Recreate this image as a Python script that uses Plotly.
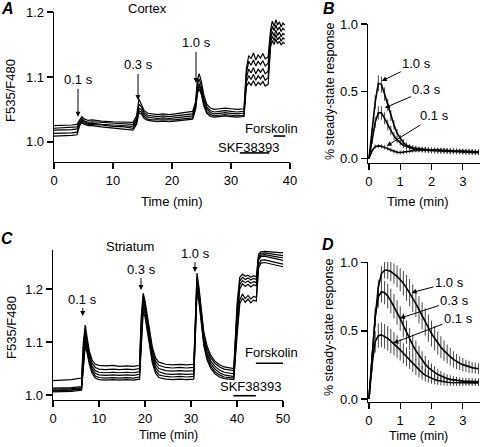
import plotly.graph_objects as go

# ---------------- Panel A: Cortex (time in min, F535/F480) ----------------
tA = [0, 1.5, 3, 3.9,
      4.3, 4.7, 5.2, 5.8, 6.5, 8, 10, 12, 13.4,
      14.0, 14.4, 14.8, 15.3, 15.9, 16.6, 17.5, 18.5, 19.5, 20.5, 21.5, 22.5, 23.5,
      24.0, 24.3, 24.6, 25.0, 25.4, 25.9, 26.5, 27.2, 28, 29, 30, 31, 32.2,
      32.6, 33.0, 33.4, 33.8, 34.2, 34.6, 35.0, 35.4, 35.8, 36.3,
      36.7, 37.0, 37.3, 37.6, 37.9, 38.2, 38.5, 38.8, 39.1]

a1 = [1.025, 1.025, 1.026, 1.027,
      1.034, 1.039, 1.035, 1.033, 1.034, 1.032, 1.031, 1.030, 1.030,
      1.040, 1.066, 1.058, 1.048, 1.044, 1.043, 1.042, 1.043, 1.042, 1.043, 1.044, 1.045, 1.047,
      1.062, 1.095, 1.105, 1.092, 1.072, 1.058, 1.052, 1.050, 1.051, 1.052, 1.051, 1.050, 1.051,
      1.112, 1.133, 1.128, 1.137, 1.126, 1.134, 1.129, 1.136, 1.128, 1.131,
      1.172, 1.186, 1.178, 1.188, 1.180, 1.185, 1.177, 1.183, 1.180]
a2 = [1.021, 1.022, 1.022, 1.023,
      1.031, 1.036, 1.032, 1.030, 1.031, 1.030, 1.029, 1.028, 1.027,
      1.036, 1.058, 1.054, 1.045, 1.041, 1.040, 1.039, 1.040, 1.039, 1.040, 1.041, 1.042, 1.043,
      1.058, 1.088, 1.097, 1.085, 1.066, 1.054, 1.048, 1.046, 1.047, 1.048, 1.047, 1.046, 1.047,
      1.105, 1.124, 1.118, 1.126, 1.117, 1.124, 1.119, 1.125, 1.117, 1.121,
      1.165, 1.178, 1.171, 1.180, 1.172, 1.177, 1.170, 1.175, 1.172]
a3 = [1.018, 1.018, 1.019, 1.020,
      1.028, 1.034, 1.031, 1.028, 1.029, 1.027, 1.026, 1.025, 1.024,
      1.033, 1.052, 1.050, 1.042, 1.038, 1.037, 1.036, 1.037, 1.036, 1.037, 1.038, 1.039, 1.040,
      1.055, 1.082, 1.090, 1.080, 1.062, 1.051, 1.045, 1.043, 1.044, 1.045, 1.044, 1.043, 1.044,
      1.098, 1.112, 1.106, 1.114, 1.105, 1.112, 1.107, 1.113, 1.105, 1.109,
      1.158, 1.170, 1.163, 1.172, 1.164, 1.169, 1.162, 1.167, 1.165]
a4 = [1.013, 1.013, 1.014, 1.015,
      1.026, 1.032, 1.029, 1.027, 1.027, 1.026, 1.024, 1.023, 1.021,
      1.030, 1.048, 1.046, 1.039, 1.035, 1.034, 1.034, 1.034, 1.033, 1.034, 1.035, 1.036, 1.037,
      1.052, 1.078, 1.086, 1.076, 1.058, 1.047, 1.042, 1.040, 1.041, 1.042, 1.041, 1.040, 1.041,
      1.092, 1.102, 1.096, 1.104, 1.095, 1.102, 1.097, 1.103, 1.095, 1.099,
      1.152, 1.163, 1.156, 1.165, 1.157, 1.162, 1.155, 1.160, 1.158]
a5 = [1.009, 1.009, 1.010, 1.011,
      1.024, 1.030, 1.027, 1.025, 1.025, 1.023, 1.021, 1.020, 1.018,
      1.027, 1.045, 1.043, 1.036, 1.033, 1.032, 1.031, 1.032, 1.031, 1.032, 1.033, 1.034, 1.035,
      1.050, 1.074, 1.082, 1.072, 1.055, 1.044, 1.039, 1.038, 1.039, 1.040, 1.039, 1.038, 1.039,
      1.085, 1.092, 1.087, 1.094, 1.086, 1.092, 1.088, 1.093, 1.086, 1.089,
      1.146, 1.156, 1.150, 1.158, 1.151, 1.155, 1.149, 1.153, 1.151]
tracesA = [a1, a2, a3, a4, a5]

# stimulus labels in A: (label, time, value at arrow tip)
stimA_labels = ["0.1 s", "0.3 s", "1.0 s"]
stimA_times = [4.07, 14.24, 24.07]
stimA_tips = [1.0385, 1.0646, 1.0908]

# drug bars in A (start, end, level)
skfA = [31.5, 36.5, 0.983]
forA = [37.2, 39.2, 1.009]

# ---------------- Panel C: Striatum ----------------
tC = [0, 2, 4, 6.2,
      6.6, 7.0, 7.4, 7.9, 8.5, 9.2, 10, 11.5, 13, 14.5, 16, 17.5, 18.8,
      19.2, 19.6, 20.0, 20.5, 21.0, 21.6, 22.3, 23, 24.5, 26, 27.5, 29, 30.6,
      31.0, 31.3, 31.7, 32.2, 32.8, 33.5, 34.3, 35.2, 36.2, 37.2, 38.2, 39.3,
      40.0, 40.6, 41.2, 41.8, 42.4, 43.0, 43.6, 44.2,
      44.7, 45.2, 46, 47, 48, 49, 50]

c1 = [1.027, 1.028, 1.029, 1.032,
      1.100, 1.132, 1.110, 1.082, 1.066, 1.058, 1.056, 1.055, 1.056, 1.054, 1.055, 1.054, 1.056,
      1.150, 1.192, 1.178, 1.150, 1.118, 1.090, 1.070, 1.062, 1.058, 1.057, 1.058, 1.057, 1.058,
      1.180, 1.230, 1.205, 1.160, 1.118, 1.092, 1.075, 1.064, 1.057, 1.053, 1.051, 1.050,
      1.170, 1.222, 1.228, 1.224, 1.226, 1.222, 1.225, 1.223,
      1.266, 1.270, 1.271, 1.270, 1.270, 1.269, 1.268]
c2 = [1.013, 1.013, 1.014, 1.016,
      1.090, 1.124, 1.104, 1.078, 1.060, 1.052, 1.049, 1.048, 1.049, 1.048, 1.049, 1.048, 1.050,
      1.140, 1.186, 1.172, 1.144, 1.112, 1.084, 1.064, 1.056, 1.052, 1.051, 1.052, 1.051, 1.052,
      1.170, 1.222, 1.200, 1.155, 1.112, 1.087, 1.070, 1.060, 1.053, 1.049, 1.047, 1.046,
      1.160, 1.215, 1.222, 1.218, 1.221, 1.217, 1.220, 1.218,
      1.262, 1.267, 1.268, 1.267, 1.266, 1.264, 1.263]
c3 = [1.011, 1.011, 1.012, 1.014,
      1.080, 1.116, 1.098, 1.072, 1.054, 1.046, 1.043, 1.042, 1.043, 1.042, 1.043, 1.042, 1.044,
      1.130, 1.180, 1.166, 1.138, 1.106, 1.078, 1.058, 1.050, 1.046, 1.045, 1.046, 1.045, 1.046,
      1.160, 1.215, 1.195, 1.150, 1.105, 1.080, 1.064, 1.054, 1.047, 1.043, 1.041, 1.040,
      1.150, 1.208, 1.216, 1.212, 1.215, 1.211, 1.214, 1.212,
      1.258, 1.264, 1.265, 1.263, 1.262, 1.260, 1.259]
c4 = [1.009, 1.009, 1.010, 1.012,
      1.070, 1.108, 1.092, 1.066, 1.049, 1.041, 1.038, 1.037, 1.038, 1.037, 1.038, 1.037, 1.039,
      1.120, 1.172, 1.160, 1.132, 1.100, 1.072, 1.052, 1.044, 1.040, 1.039, 1.040, 1.039, 1.040,
      1.150, 1.207, 1.190, 1.145, 1.100, 1.075, 1.059, 1.049, 1.042, 1.038, 1.036, 1.035,
      1.140, 1.200, 1.210, 1.205, 1.209, 1.204, 1.208, 1.206,
      1.255, 1.261, 1.262, 1.260, 1.258, 1.256, 1.254]
c5 = [1.008, 1.008, 1.009, 1.011,
      1.060, 1.100, 1.086, 1.062, 1.045, 1.036, 1.033, 1.032, 1.033, 1.032, 1.033, 1.032, 1.034,
      1.110, 1.164, 1.154, 1.126, 1.094, 1.066, 1.046, 1.038, 1.035, 1.034, 1.035, 1.034, 1.035,
      1.140, 1.198, 1.184, 1.140, 1.096, 1.070, 1.054, 1.044, 1.038, 1.034, 1.033, 1.032,
      1.120, 1.180, 1.190, 1.182, 1.188, 1.181, 1.186, 1.184,
      1.245, 1.254, 1.255, 1.253, 1.251, 1.249, 1.247]
c6 = [1.006, 1.006, 1.007, 1.009,
      1.055, 1.092, 1.080, 1.058, 1.041, 1.032, 1.029, 1.028, 1.029, 1.028, 1.029, 1.028, 1.030,
      1.100, 1.156, 1.148, 1.120, 1.088, 1.060, 1.041, 1.033, 1.030, 1.029, 1.030, 1.029, 1.030,
      1.130, 1.190, 1.178, 1.135, 1.092, 1.066, 1.050, 1.040, 1.034, 1.031, 1.030, 1.029,
      1.110, 1.172, 1.183, 1.175, 1.181, 1.174, 1.179, 1.177,
      1.240, 1.249, 1.250, 1.248, 1.246, 1.244, 1.242]
tracesC = [c1, c2, c3, c4, c5, c6]

stimC_labels = ["0.1 s", "0.3 s", "1.0 s"]
stimC_times = [6.46, 19.13, 30.87]
stimC_tips = [1.149, 1.198, 1.232]

skfC = [39.2, 44.1, 0.9987]
forC = [44.1, 51.2, 1.06]

# ---------------- Panels B and D: normalised responses ----------------
tN = [0.0, 0.1, 0.2, 0.3, 0.4, 0.5, 0.6, 0.7, 0.8, 0.9,
      1.0, 1.1, 1.2, 1.3, 1.4, 1.5, 1.6, 1.7, 1.8, 1.9,
      2.0, 2.1, 2.2, 2.3, 2.4, 2.5, 2.6, 2.7, 2.8, 2.9,
      3.0, 3.1, 3.2, 3.3, 3.4, 3.5]

B10 = [0.0, 0.20, 0.42, 0.56, 0.55, 0.48, 0.40, 0.32, 0.25, 0.19,
       0.15, 0.12, 0.10, 0.09, 0.082, 0.077, 0.073, 0.070, 0.068, 0.066,
       0.065, 0.064, 0.063, 0.062, 0.061, 0.060, 0.059, 0.058, 0.057, 0.056,
       0.055, 0.054, 0.053, 0.052, 0.051, 0.050]
B03 = [0.0, 0.13, 0.27, 0.34, 0.34, 0.30, 0.25, 0.21, 0.17, 0.14,
       0.12, 0.10, 0.09, 0.08, 0.075, 0.070, 0.067, 0.065, 0.063, 0.061,
       0.060, 0.059, 0.058, 0.057, 0.056, 0.055, 0.054, 0.053, 0.052, 0.051,
       0.050, 0.049, 0.048, 0.047, 0.046, 0.045]
B01 = [0.0, 0.06, 0.09, 0.095, 0.092, 0.085, 0.075, 0.065, 0.055, 0.048,
       0.046, 0.048, 0.052, 0.056, 0.060, 0.063, 0.065, 0.066, 0.067, 0.067,
       0.066, 0.065, 0.064, 0.063, 0.062, 0.061, 0.060, 0.059, 0.058, 0.057,
       0.056, 0.055, 0.054, 0.053, 0.052, 0.051]
eB10 = [0.0, 0.03, 0.05, 0.06, 0.06, 0.05, 0.045, 0.04, 0.035, 0.03,
        0.028, 0.025, 0.022, 0.02, 0.02, 0.02, 0.02, 0.02, 0.02, 0.02,
        0.02, 0.02, 0.02, 0.02, 0.02, 0.02, 0.02, 0.02, 0.02, 0.02,
        0.02, 0.02, 0.02, 0.02, 0.02, 0.02]
eB03 = [0.0, 0.02, 0.04, 0.05, 0.05, 0.045, 0.04, 0.035, 0.03, 0.025,
        0.022, 0.02, 0.02, 0.02, 0.02, 0.02, 0.02, 0.02, 0.02, 0.02,
        0.02, 0.02, 0.02, 0.02, 0.02, 0.02, 0.02, 0.02, 0.02, 0.02,
        0.02, 0.02, 0.02, 0.02, 0.02, 0.02]
eB01 = [0.0, 0.01, 0.015, 0.015, 0.015, 0.015, 0.015, 0.015, 0.015, 0.015,
        0.015, 0.015, 0.015, 0.015, 0.015, 0.015, 0.015, 0.015, 0.015, 0.015,
        0.015, 0.015, 0.015, 0.015, 0.015, 0.015, 0.015, 0.015, 0.015, 0.015,
        0.015, 0.015, 0.015, 0.015, 0.015, 0.015]

D10 = [0.0, 0.30, 0.60, 0.82, 0.92, 0.945, 0.945, 0.935, 0.92, 0.90,
       0.875, 0.85, 0.815, 0.78, 0.74, 0.70, 0.655, 0.61, 0.565, 0.52,
       0.48, 0.445, 0.41, 0.38, 0.355, 0.33, 0.31, 0.29, 0.275, 0.262,
       0.252, 0.243, 0.236, 0.23, 0.226, 0.222]
D03 = [0.0, 0.30, 0.60, 0.75, 0.787, 0.78, 0.755, 0.72, 0.68, 0.635,
       0.59, 0.54, 0.49, 0.44, 0.395, 0.355, 0.32, 0.285, 0.255, 0.23,
       0.21, 0.195, 0.18, 0.168, 0.158, 0.15, 0.144, 0.14, 0.136, 0.133,
       0.131, 0.13, 0.129, 0.128, 0.127, 0.126]
D01 = [0.0, 0.25, 0.42, 0.465, 0.47, 0.46, 0.445, 0.425, 0.405, 0.385,
       0.36, 0.335, 0.31, 0.285, 0.26, 0.235, 0.212, 0.192, 0.175, 0.162,
       0.15, 0.142, 0.135, 0.13, 0.126, 0.123, 0.121, 0.12, 0.119, 0.118,
       0.118, 0.118, 0.118, 0.118, 0.118, 0.118]
eD10 = [0.0, 0.03, 0.05, 0.055, 0.055, 0.06, 0.065, 0.07, 0.075, 0.08,
        0.085, 0.09, 0.095, 0.1, 0.1, 0.1, 0.1, 0.1, 0.1, 0.1,
        0.095, 0.09, 0.085, 0.08, 0.075, 0.07, 0.065, 0.06, 0.055, 0.05,
        0.05, 0.045, 0.045, 0.04, 0.04, 0.04]
eD03 = [0.0, 0.05, 0.07, 0.08, 0.08, 0.085, 0.09, 0.09, 0.09, 0.09,
        0.09, 0.088, 0.085, 0.082, 0.078, 0.074, 0.07, 0.065, 0.06, 0.055,
        0.05, 0.046, 0.042, 0.038, 0.035, 0.032, 0.03, 0.028, 0.027, 0.026,
        0.025, 0.025, 0.025, 0.025, 0.025, 0.025]
eD01 = [0.0, 0.05, 0.08, 0.09, 0.09, 0.09, 0.09, 0.088, 0.085, 0.082,
        0.078, 0.074, 0.07, 0.066, 0.062, 0.058, 0.054, 0.05, 0.046, 0.042,
        0.038, 0.035, 0.032, 0.03, 0.028, 0.026, 0.025, 0.024, 0.023, 0.022,
        0.022, 0.022, 0.022, 0.022, 0.022, 0.022]

resp_labels = ["1.0 s", "0.3 s", "0.1 s"]
# arrow tips (time, value) and text offsets (pixels)
B_tips = [(0.41, 0.577), (0.51, 0.378), (0.57, 0.095)]
B_off = [(35, -17), (42, -18), (48, -30)]
D_tips = [(1.36, 0.78), (0.99, 0.592), (0.78, 0.41)]
D_off = [(38, -10), (55, -18), (65, -25)]

FONT = "Liberation Sans, Arial, Helvetica, sans-serif"
W, H = 480, 447

fig = go.Figure()

for tr in tracesA:
    fig.add_trace(go.Scatter(x=tA, y=tr, mode="lines", line=dict(color="black", width=1.2),
                             xaxis="x", yaxis="y", showlegend=False))
for tr in tracesC:
    fig.add_trace(go.Scatter(x=tC, y=tr, mode="lines", line=dict(color="black", width=1.2),
                             xaxis="x3", yaxis="y3", showlegend=False))

for bar, ax_, ay_ in [(skfA, "x", "y"), (forA, "x", "y"), (skfC, "x3", "y3"), (forC, "x3", "y3")]:
    fig.add_trace(go.Scatter(x=[bar[0], bar[1]], y=[bar[2], bar[2]], mode="lines",
                             line=dict(color="black", width=1.6), xaxis=ax_, yaxis=ay_,
                             showlegend=False))

for ys, es in [(B01, eB01), (B03, eB03), (B10, eB10)]:
    fig.add_trace(go.Scatter(x=tN, y=ys, mode="lines", line=dict(color="black", width=1.6),
                             error_y=dict(type="data", array=es, visible=True, thickness=0.9,
                                          width=0, color="#333"),
                             xaxis="x2", yaxis="y2", showlegend=False))
for ys, es in [(D01, eD01), (D03, eD03), (D10, eD10)]:
    fig.add_trace(go.Scatter(x=tN, y=ys, mode="lines", line=dict(color="black", width=1.6),
                             error_y=dict(type="data", array=es, visible=True, thickness=0.9,
                                          width=0, color="#333"),
                             xaxis="x4", yaxis="y4", showlegend=False))


def ax(domain, rng, tickvals, anchor, fmt=None):
    d = dict(domain=domain, range=rng, tickvals=tickvals, anchor=anchor, automargin=False,
             showline=True, linecolor="black", linewidth=1.4, ticks="outside",
             ticklen=6, tickwidth=1.4, tickcolor="black", showgrid=False, zeroline=False,
             tickfont=dict(family=FONT, size=13, color="black"), fixedrange=True)
    if fmt:
        d["tickformat"] = fmt
    return d


def px(x):
    return x / W


def py(y):
    return 1 - y / H


fig.update_layout(
    template="none",
    width=W, height=H, margin=dict(l=0, r=0, t=0, b=0, pad=0),
    paper_bgcolor="white", plot_bgcolor="white",
    font=dict(family=FONT, size=12, color="black"),
    xaxis=ax([px(54), px(290)], [0, 40], [0, 10, 20, 30, 40], "y"),
    yaxis=ax([py(162), py(12)], [0.969, 1.2], [1.0, 1.1, 1.2], "x", ".1f"),
    xaxis2=ax([px(368), 1.0], [-0.03, 3.55], [0, 1, 2, 3], "y2"),
    yaxis2=ax([py(162.5), py(24)], [-0.028, 1.0], [0.0, 0.5, 1.0], "x2", ".1f"),
    xaxis3=ax([px(53), px(283)], [0, 50], [0, 10, 20, 30, 40, 50], "y3"),
    yaxis3=ax([py(400), py(250)], [0.9906, 1.2736], [1.0, 1.1, 1.2], "x3", ".1f"),
    xaxis4=ax([px(368), 1.0], [-0.03, 3.55], [0, 1, 2, 3], "y4"),
    yaxis4=ax([py(401.7), py(262)], [-0.02, 1.005], [0.0, 0.5, 1.0], "x4", ".1f"),
)

ann = []
# stimulus arrows
for lab, t, v, dy in zip(stimA_labels, stimA_times, stimA_tips, [-37, -35, -40]):
    ann.append(dict(x=t, y=v, xref="x", yref="y", text=lab, showarrow=True, ax=0, ay=dy,
                    arrowhead=2, arrowsize=1, arrowwidth=1, arrowcolor="black",
                    font=dict(size=13), standoff=0))
for lab, t, v, dy in zip(stimC_labels, stimC_times, stimC_tips, [-17, -21, -19]):
    ann.append(dict(x=t, y=v, xref="x3", yref="y3", text=lab, showarrow=True, ax=0, ay=dy,
                    arrowhead=2, arrowsize=1, arrowwidth=1, arrowcolor="black",
                    font=dict(size=13), standoff=0))
for lab, (t, v), (ox, oy) in zip(resp_labels, B_tips, B_off):
    ann.append(dict(x=t, y=v, xref="x2", yref="y2", text=lab, showarrow=True, ax=ox, ay=oy,
                    arrowhead=2, arrowsize=1, arrowwidth=1, arrowcolor="black",
                    font=dict(size=13)))
for lab, (t, v), (ox, oy) in zip(resp_labels, D_tips, D_off):
    ann.append(dict(x=t, y=v, xref="x4", yref="y4", text=lab, showarrow=True, ax=ox, ay=oy,
                    arrowhead=2, arrowsize=1, arrowwidth=1, arrowcolor="black",
                    font=dict(size=13)))

# drug labels
ann.append(dict(x=32.9, y=0.9908, xref="x", yref="y", text="SKF38393", showarrow=False, font=dict(size=13)))
ann.append(dict(x=36.9, y=1.020, xref="x", yref="y", text="Forskolin", showarrow=False, font=dict(size=13)))
ann.append(dict(x=43.0, y=1.0157, xref="x3", yref="y3", text="SKF38393", showarrow=False, font=dict(size=13)))
ann.append(dict(x=47.4, y=1.0798, xref="x3", yref="y3", text="Forskolin", showarrow=False, font=dict(size=13)))


# titles and axis labels
def ptext(x, y, text, size=12, angle=0, style=None):
    f = dict(size=size, family=FONT, color="black")
    t = text
    if style == "panel":
        t = "<b><i>" + text + "</i></b>"
    return dict(x=px(x), y=py(y), xref="paper", yref="paper", text=t, showarrow=False,
                textangle=angle, font=f, xanchor="center", yanchor="middle")


ann += [
    ptext(147, 9, "Cortex", 13),
    ptext(130, 246, "Striatum", 13),
    ptext(172, 202, "Time (min)", 13),
    ptext(418, 202, "Time (min)", 13),
    ptext(168, 435, "Time (min)", 12.5),
    ptext(418, 436, "Time (min)", 12.5),
    ptext(11, 91, "F535/F480", 13, -90),
    ptext(11, 328, "F535/F480", 13, -90),
    ptext(330, 91, "% steady-state response", 12.5, -90),
    ptext(329, 327, "% steady-state response", 12.5, -90),
    ptext(7, 8, "A", 16, style="panel"),
    ptext(329, 8, "B", 16, style="panel"),
    ptext(7, 238, "C", 16, style="panel"),
    ptext(328, 244, "D", 16, style="panel"),
]

fig.update_layout(annotations=ann)
fig.write_html("out.html", config=dict(displayModeBar=False, staticPlot=True),
               post_script="document.body.style.margin='0px';document.body.style.overflow='hidden';")
